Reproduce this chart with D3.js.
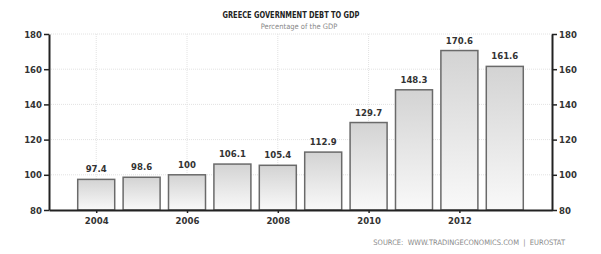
<!DOCTYPE html>
<html>
<head>
<meta charset="utf-8">
<script src="https://cdn.jsdelivr.net/npm/d3@7"></script>
<style>
  body { margin: 0; background: #fff; }
  svg { display: block; font-family: "DejaVu Sans Condensed", "DejaVu Sans", sans-serif; }
</style>
</head>
<body>
<script>
// greece gov debt, % of gdp
var years = [2004, 2005, 2006, 2007, 2008, 2009, 2010, 2011, 2012, 2013];
var debt = [97.4, 98.6, 100, 106.1, 105.4, 112.9, 129.7, 148.3, 170.6, 161.6];
var yearTicks = [2004, 2006, 2008, 2010, 2012];
var valueTicks = [80, 100, 120, 140, 160, 180];

var width = 601, height = 254;
var margin = { top: 34, right: 49, bottom: 44, left: 49 };
var font = '"DejaVu Sans Condensed", "DejaVu Sans", sans-serif';

var svg = d3.select(document.body).append('svg')
    .attr('width', width)
    .attr('height', height);

var defs = svg.append('defs');
var grad = defs.append('linearGradient')
    .attr('id', 'barGrad')
    .attr('x1', 0).attr('y1', 0).attr('x2', 0).attr('y2', 1);
grad.append('stop').attr('offset', '0%').attr('stop-color', '#d3d3d3');
grad.append('stop').attr('offset', '100%').attr('stop-color', '#f9f9f9');

var x = d3.scaleLinear()
    .domain([2002.96, 2014.04])
    .range([margin.left, width - margin.right]);
var y = d3.scaleLinear()
    .domain([80, 180])
    .range([height - margin.bottom, margin.top]);

var barW = 37;

// grid
var grid = svg.append('g').attr('stroke', '#e2e2e2').attr('stroke-dasharray', '1,1');
grid.selectAll('line.h').data(valueTicks.slice(1)).enter().append('line')
    .attr('x1', x.range()[0]).attr('x2', x.range()[1])
    .attr('y1', function(d) { return y(d); })
    .attr('y2', function(d) { return y(d); });
grid.selectAll('line.v').data(yearTicks).enter().append('line')
    .attr('x1', function(d) { return x(d); })
    .attr('x2', function(d) { return x(d); })
    .attr('y1', y.range()[1]).attr('y2', y.range()[0]);

// bars
var bars = svg.append('g');
bars.selectAll('rect').data(years).enter().append('rect')
    .attr('x', function(d) { return x(d) - barW / 2; })
    .attr('y', function(d, i) { return y(debt[i]); })
    .attr('width', barW)
    .attr('height', function(d, i) { return y(80) - y(debt[i]); })
    .attr('fill', 'url(#barGrad)')
    .attr('stroke', '#6a6a6a')
    .attr('stroke-width', 1.5);

bars.selectAll('text').data(years).enter().append('text')
    .attr('x', function(d) { return x(d); })
    .attr('y', function(d, i) { return y(debt[i]) - 7; })
    .attr('text-anchor', 'middle')
    .attr('font-size', 9.5)
    .attr('font-weight', 'bold')
    .attr('fill', '#333')
    .text(function(d, i) { return debt[i]; });

// axes
function styleAxis(g) {
  g.selectAll('.domain').attr('stroke', '#222').attr('stroke-width', 2);
  g.selectAll('.tick line').attr('stroke', '#222').attr('stroke-width', 1.5);
  g.selectAll('.tick text')
      .attr('font-size', 9.5)
      .attr('font-weight', 'bold')
      .attr('fill', '#333')
      .attr('font-family', font);
}

svg.append('g')
    .attr('transform', 'translate(' + margin.left + ',0)')
    .call(d3.axisLeft(y).tickValues(valueTicks).tickSize(5).tickSizeOuter(0).tickPadding(2))
    .call(styleAxis);

svg.append('g')
    .attr('transform', 'translate(' + (width - margin.right) + ',0)')
    .call(d3.axisRight(y).tickValues(valueTicks).tickSize(5).tickSizeOuter(0).tickPadding(2))
    .call(styleAxis);

svg.append('g')
    .attr('transform', 'translate(0,' + y(80) + ')')
    .call(d3.axisBottom(x).tickValues(yearTicks).tickFormat(d3.format('d'))
        .tickSize(3).tickSizeOuter(0).tickPadding(4))
    .call(styleAxis);

// titles
svg.append('text')
    .attr('x', 291).attr('y', 18)
    .attr('text-anchor', 'middle')
    .attr('font-size', 9)
    .attr('font-weight', 'bold')
    .attr('fill', '#222')
    .attr('textLength', 137)
    .attr('lengthAdjust', 'spacingAndGlyphs')
    .text('GREECE GOVERNMENT DEBT TO GDP');

svg.append('text')
    .attr('x', 299).attr('y', 29)
    .attr('text-anchor', 'middle')
    .attr('font-size', 7.5)
    .attr('fill', '#888')
    .text('Percentage of the GDP');

svg.append('text')
    .attr('x', 565).attr('y', 245)
    .attr('text-anchor', 'end')
    .attr('font-size', 7.5)
    .attr('fill', '#8a8a8a')
    .attr('xml:space', 'preserve')
    .text('SOURCE:  WWW.TRADINGECONOMICS.COM  |  EUROSTAT');
</script>
</body>
</html>
